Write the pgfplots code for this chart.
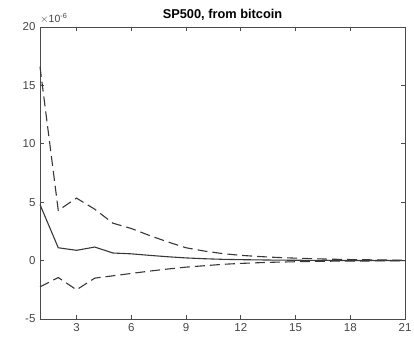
\documentclass[border=0pt]{standalone}
\usepackage{pgfplots}
\pgfplotsset{compat=1.18}
\usepackage{pgfplotstable}
\usepackage{fontspec}
\setmainfont{Liberation Sans}

\definecolor{axgray}{HTML}{4A4A4A}
\definecolor{ticktext}{HTML}{454545}
\definecolor{linegray}{HTML}{383838}

% impulse response (units of 1e-6) with lower and upper bands
\pgfplotstableread{
h   irf    lo     hi
1   4.80  -2.25  16.60
2   1.10  -1.45   4.30
3   0.88  -2.50   5.35
4   1.16  -1.50   4.40
5   0.65  -1.30   3.20
6   0.58  -1.10   2.75
7   0.45  -0.90   2.15
8   0.33  -0.72   1.60
9   0.23  -0.56   1.10
10  0.16  -0.44   0.82
11  0.11  -0.32   0.60
12  0.08  -0.24   0.45
13  0.06  -0.18   0.35
14  0.04  -0.13   0.27
15  0.03  -0.10   0.21
16  0.02  -0.07   0.16
17  0.015 -0.05   0.12
18  0.01  -0.04   0.09
19  0.008 -0.03   0.07
20  0.006 -0.02   0.05
21  0.004 -0.015  0.04
}\irf

\begin{document}
\begin{tikzpicture}
\path[use as bounding box] (-40pt,-19pt) rectangle (374pt,319pt);
\begin{axis}[
  at={(0,0)}, anchor=south west,
  scale only axis, width=365pt, height=292pt,
  xmin=1, xmax=21, ymin=-5, ymax=20,
  xtick={3,6,...,21}, ytick={-5,0,5,10,15,20},
  tick align=inside, major tick length=4pt,
  axis line style={axgray, line width=0.7pt},
  every tick/.style={axgray, line width=0.7pt},
  tick label style={font=\fontsize{11.5}{13}\selectfont, text=ticktext},
  /pgf/number format/assume math mode=true,
  xticklabel style={yshift=-1pt},
  yticklabel style={xshift=-1pt},
  title={\textbf{SP500, from bitcoin}},
  title style={font=\fontsize{12.8}{14}\selectfont, yshift=-3pt},
  clip=false,
]
\addplot[linegray, line width=1.1pt] table[x=h, y=irf] {\irf};
\addplot[linegray, line width=1.1pt, dash pattern=on 10pt off 5pt] table[x=h, y=hi] {\irf};
\addplot[linegray, line width=1.1pt, dash pattern=on 10pt off 5pt] table[x=h, y=lo] {\irf};
\node[anchor=south west, inner sep=0pt, text=ticktext, font=\fontsize{10.5}{12}\selectfont]
  at ([yshift=3pt]rel axis cs:0,1) {$\times$10\textsuperscript{-6}};
\end{axis}
\end{tikzpicture}
\end{document}
